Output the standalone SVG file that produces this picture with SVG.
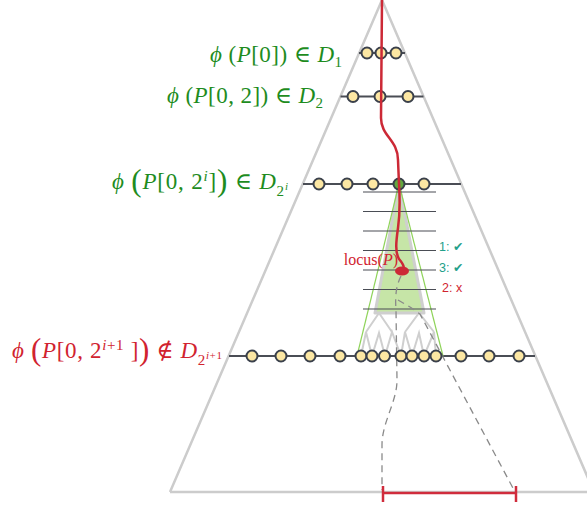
<svg xmlns="http://www.w3.org/2000/svg" width="587" height="508" viewBox="0 0 587 508">
<style>
.tri{fill:none;stroke:#cccccc;stroke-width:2.5;stroke-linejoin:round}
.row{stroke:#4a4d55;stroke-width:2.2}
.tick{stroke:#4a4d55;stroke-width:1.1}
.tree{fill:none;stroke:#cfcfcf;stroke-width:2}
.glin{stroke:#8fd35a;stroke-width:1.2}
.dash{fill:none;stroke:#8a8a8a;stroke-width:1.3;stroke-dasharray:7 5}
.red{fill:none;stroke:#cc2936;stroke-width:2.5}
.nd{fill:#fce7a3;stroke:#3a404b;stroke-width:2}
.ndg{fill:#62a83f;stroke:#3a404b;stroke-width:2}
.m{font-family:"Liberation Serif","DejaVu Serif",serif;font-size:23px}
.g{fill:#1e8c1e}
.r{fill:#d1232f}
.it{font-style:italic}
.bp{font-size:31px}
.lbl{font-family:"Liberation Sans","DejaVu Sans",sans-serif;font-size:12.5px}
</style>
<g id="triangle"><polyline class="tri" points="170,492 382,0 594,492"/><line class="tri" x1="170" y1="492" x2="594" y2="492"/></g>
<g id="rows">
<line class="row" x1="359" y1="53" x2="405" y2="53"/>
<line class="row" x1="340.5" y1="96.5" x2="423.5" y2="96.5"/>
<line class="row" x1="303" y1="184" x2="461" y2="184"/>
<line class="row" x1="229" y1="356" x2="535" y2="356"/>
</g>
<g id="cone">
<polygon points="399,184 375,313 424,313" fill="#c6e5a7" stroke="#cfcfcf" stroke-width="3" stroke-linejoin="round"/>
<line class="glin" x1="399" y1="184" x2="357" y2="356"/>
<line class="glin" x1="399" y1="184" x2="443" y2="356"/>
</g>
<g id="tree">
<polyline class="tree" points="366,332 379,313 392,332"/>
<polyline class="tree" points="405,332 419,313 434,332"/>
<polyline class="tree" points="361,356 366,332 372,356 379,333 385,356 392,332 401,356 405,332 412,356 419,333 424,356 434,332 436,356"/>
</g>
<g id="ticks">
<line class="tick" x1="363" y1="192" x2="436" y2="192"/>
<line class="tick" x1="363" y1="211.5" x2="436" y2="211.5"/>
<line class="tick" x1="363" y1="231" x2="436" y2="231"/>
<line class="tick" x1="363" y1="250.5" x2="436" y2="250.5"/>
<line class="tick" x1="363" y1="270" x2="436" y2="270"/>
<line class="tick" x1="363" y1="289.5" x2="436" y2="289.5"/>
<line class="tick" x1="363" y1="309" x2="436" y2="309"/>
</g>
<g id="connectors">
<path class="dash" d="M401,276 C396,286 395,296 396,310 L397,380 C397,402 382,422 382,445 L382,490"/>
<path class="dash" d="M398,300 C405,304 412,308 420,314 L514,490"/>
</g>
<g id="nodes">
<g id="n1a"><circle class="nd" cx="367" cy="53" r="5.5"/></g>
<g id="n1b"><circle class="nd" cx="381" cy="53" r="5.5"/></g>
<g id="n1c"><circle class="nd" cx="396" cy="53" r="5.5"/></g>
<g id="n2a"><circle class="nd" cx="353" cy="96.5" r="5.5"/></g>
<g id="n2b"><circle class="nd" cx="380" cy="96.5" r="5.5"/></g>
<g id="n2c"><circle class="nd" cx="408" cy="96.5" r="5.5"/></g>
<g id="n3a"><circle class="nd" cx="319" cy="184" r="5.5"/></g>
<g id="n3b"><circle class="nd" cx="347" cy="184" r="5.5"/></g>
<g id="n3c"><circle class="nd" cx="373" cy="184" r="5.5"/></g>
<g id="n3d"><circle class="ndg" cx="399" cy="184" r="5.5"/></g>
<g id="n3e"><circle class="nd" cx="424" cy="184" r="5.5"/></g>
<g id="n4a"><circle class="nd" cx="252" cy="356" r="5.5"/></g>
<g id="n4b"><circle class="nd" cx="281" cy="356" r="5.5"/></g>
<g id="n4c"><circle class="nd" cx="310" cy="356" r="5.5"/></g>
<g id="n4d"><circle class="nd" cx="340" cy="356" r="5.5"/></g>
<g id="n4e"><circle class="nd" cx="361" cy="356" r="5.5"/></g>
<g id="n4f"><circle class="nd" cx="372" cy="356" r="5.5"/></g>
<g id="n4g"><circle class="nd" cx="384.5" cy="356" r="5.5"/></g>
<g id="n4h"><circle class="nd" cx="401" cy="356" r="5.5"/></g>
<g id="n4i"><circle class="nd" cx="412" cy="356" r="5.5"/></g>
<g id="n4j"><circle class="nd" cx="424" cy="356" r="5.5"/></g>
<g id="n4k"><circle class="nd" cx="436" cy="356" r="5.5"/></g>
<g id="n4l"><circle class="nd" cx="461" cy="356" r="5.5"/></g>
<g id="n4m"><circle class="nd" cx="489" cy="356" r="5.5"/></g>
<g id="n4n"><circle class="nd" cx="519" cy="356" r="5.5"/></g>
</g>
<g id="path-P">
<path class="red" d="M382,0 L381,118 C381,136 398,140 398,160 L399,184 C400,200 400,214 398,228 C396,242 395,252 399,259 C404,265 405,268 402,271"/>
<ellipse cx="402" cy="271" rx="7" ry="4.5" fill="#cc2936"/>
</g>
<g id="interval">
<line x1="383" y1="493" x2="516" y2="493" stroke="#d02c3c" stroke-width="2.5"/>
<line x1="383" y1="486" x2="383" y2="502" stroke="#d02c3c" stroke-width="2.5"/>
<line x1="516" y1="486" x2="516" y2="502" stroke="#d02c3c" stroke-width="2.5"/>
</g>
<g id="labels">
<text class="m g" x="210" y="62" textLength="132" lengthAdjust="spacing"><tspan class="it">ϕ</tspan> (<tspan class="it">P</tspan>[0]) ∈ <tspan class="it">D</tspan><tspan font-size="15" dy="5">1</tspan></text>
<text class="m g" x="167" y="103" textLength="156" lengthAdjust="spacing"><tspan class="it">ϕ</tspan> (<tspan class="it">P</tspan>[0, 2]) ∈ <tspan class="it">D</tspan><tspan font-size="15" dy="5">2</tspan></text>
<text class="m g" x="112" y="189" textLength="176" lengthAdjust="spacing"><tspan class="it">ϕ</tspan> <tspan class="bp" dy="2">(</tspan><tspan class="it" dy="-2">P</tspan>[0, 2<tspan class="it" font-size="15" dy="-8">i</tspan><tspan dy="8">]</tspan><tspan class="bp" dy="2">)</tspan><tspan dy="-2"> ∈ </tspan><tspan class="it">D</tspan><tspan font-size="15" dy="7">2</tspan><tspan class="it" font-size="11" dy="-6">i</tspan></text>
<text class="m r" x="12" y="358" textLength="210" lengthAdjust="spacing"><tspan class="it">ϕ</tspan> <tspan class="bp" dy="2">(</tspan><tspan class="it" dy="-2">P</tspan>[0, 2<tspan font-size="15" dy="-8"><tspan class="it">i</tspan>+1</tspan><tspan dy="8"> ]</tspan><tspan class="bp" dy="2">)</tspan><tspan dy="-2"> ∉ </tspan><tspan class="it">D</tspan><tspan font-size="15" dy="7">2</tspan><tspan font-size="11" dy="-6"><tspan class="it">i</tspan>+1</tspan></text>
<text x="398" y="265" text-anchor="end" font-family="Liberation Serif, DejaVu Serif, serif" font-size="16" fill="#d1232f">locus(<tspan font-style="italic">P</tspan>)</text>
<text class="lbl" x="439" y="251" fill="#23a08a">1: ✔</text>
<text class="lbl" x="439" y="272" fill="#23a08a">3: ✔</text>
<text class="lbl" x="442" y="292" fill="#d1232f">2: x</text>
</g>
</svg>
